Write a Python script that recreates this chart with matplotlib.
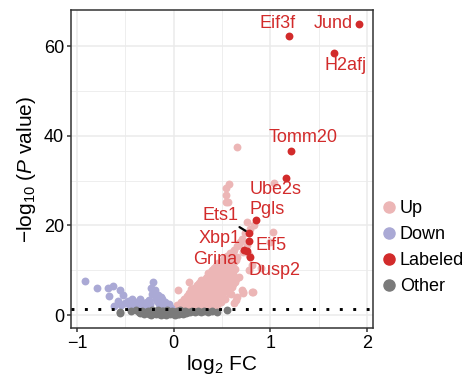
import matplotlib
matplotlib.use("Agg")
import matplotlib.pyplot as plt
from matplotlib.lines import Line2D

plt.rcParams["font.family"] = ["Liberation Sans", "DejaVu Sans"]
plt.rcParams["mathtext.fontset"] = "custom"
plt.rcParams["mathtext.rm"] = "Liberation Sans"
plt.rcParams["mathtext.it"] = "Liberation Sans:italic"

# --------------------------------------------------------
# 1. Data  (log2 FC, -log10 P)
# --------------------------------------------------------
up_fc = [0.02, 0.03, 0.05, 0.04, 0.07, 0.07, 0.08,
         0.10, 0.10, 0.11, 0.10, 0.12, 0.12,
         0.14, 0.14, 0.15, 0.14, 0.16, 0.16, 0.17, 0.16,
         0.18, 0.18, 0.19, 0.18, 0.20,
         0.21, 0.21, 0.22, 0.21, 0.22,
         0.23, 0.24, 0.23, 0.24,
         0.26, 0.26, 0.25, 0.27, 0.26, 0.27,
         0.28, 0.28, 0.29, 0.29, 0.30,
         0.31, 0.31, 0.32, 0.31, 0.32, 0.33, 0.30,
         0.33, 0.34, 0.33, 0.34, 0.34,
         0.35, 0.36, 0.36, 0.35, 0.37, 0.36, 0.37,
         0.38, 0.38, 0.39, 0.39, 0.38, 0.39, 0.40,
         0.40, 0.40, 0.41, 0.41, 0.41, 0.42,
         0.42, 0.43, 0.43, 0.43, 0.44, 0.42,
         0.45, 0.44, 0.45, 0.45, 0.46,
         0.46, 0.47, 0.47, 0.47, 0.46, 0.48,
         0.48, 0.49, 0.49, 0.48, 0.49, 0.50,
         0.50, 0.51, 0.51, 0.50, 0.51,
         0.52, 0.52, 0.53, 0.53, 0.52, 0.53,
         0.54, 0.55, 0.55, 0.54, 0.55,
         0.54, 0.54, 0.54, 0.57, 0.56,
         0.56, 0.56, 0.57, 0.57,
         0.58, 0.58, 0.58,
         0.59, 0.59, 0.60, 0.60,
         0.61, 0.61, 0.61,
         0.62, 0.62, 0.62,
         0.63, 0.63,
         0.64, 0.64, 0.64,
         0.65,
         0.66, 0.66, 0.66,
         0.68, 0.68,
         0.69, 0.71, 0.71, 0.72, 0.72,
         0.74, 0.76, 0.76, 0.78, 0.78,
         0.79, 0.83, 0.81, 0.81, 0.82,
         0.90, 1.00, 1.03, 1.04, 0.72]
up_p = [1.5, 2.2, 1.8, 5.6, 2.2, 1.6, 3.0,
        1.9, 2.8, 3.6, 1.5, 3.7, 2.4,
        2.0, 4.3, 3.1, 1.7, 7.4, 2.6, 3.8, 5.0,
        1.8, 3.3, 4.6, 5.9, 2.5,
        3.7, 2.2, 4.9, 6.1, 1.6,
        3.0, 5.4, 4.2, 6.7,
        7.1, 2.1, 3.6, 4.8, 5.9, 1.7,
        7.8, 2.8, 4.3, 6.4, 5.2,
        4.8, 1.9, 3.3, 6.0, 7.2, 8.2, 2.6,
        3.9, 5.5, 6.8, 8.6, 1.6,
        9.3, 8.6, 2.2, 4.5, 6.2, 7.5, 3.1,
        5.1, 7.0, 8.8, 9.7, 2.7, 3.8, 1.8,
        6.3, 10.0, 4.2, 8.1, 2.4, 5.5,
        10.4, 7.4, 9.1, 3.4, 6.0, 4.8,
        8.5, 11.0, 2.1, 5.3, 9.8,
        7.7, 10.5, 3.9, 6.8, 11.6, 4.7,
        11.2, 8.9, 5.8, 9.9, 2.9, 7.3,
        12.1, 6.4, 10.3, 4.4, 8.4,
        12.7, 9.4, 7.8, 11.3, 5.6, 3.5,
        11.9, 13.2, 10.0, 6.1, 8.8,
        25.3, 26.8, 28.3, 29.2, 25.3,
        9.6, 12.4, 4.9, 7.2,
        13.8, 10.6, 8.3,
        4.8, 13.0, 6.3, 11.4,
        14.0, 9.1, 7.0,
        14.6, 2.6, 11.8,
        7.4, 10.2,
        3.3, 8.0, 12.4,
        37.4,
        15.3, 4.1, 12.9,
        8.5, 15.8,
        16.4, 5.6, 17.0, 5.2, 14.1,
        18.2, 20.8, 15.6, 10.0, 13.4,
        19.3, 20.1, 11.2, 5.2, 5.1,
        10.6, 16.4, 18.6, 29.5, 5.0]

down_fc = [-0.92, -0.79, -0.68, -0.63, -0.67, -0.56, -0.62, -0.52, -0.50, -0.54,
           -0.43, -0.40, -0.35, -0.31, -0.26, -0.21, -0.23, -0.19, -0.16, -0.12,
           -0.09, -0.05, -0.45, -0.38, -0.30, -0.24, -0.15, -0.47, -0.36, -0.28,
           -0.18, -0.13, -0.10, -0.07, -0.03, -0.22, -0.17, -0.33, -0.41, -0.58,
           -0.30, -0.14, -0.45, -0.25, -0.08]
down_p = [7.7, 6.1, 6.0, 6.5, 4.2, 5.6, 2.1, 4.5, 2.6, 2.2,
          3.7, 3.0, 3.7, 2.6, 3.3, 7.3, 6.0, 5.6, 4.5, 3.7,
          3.0, 2.4, 2.4, 2.3, 2.5, 2.4, 2.5, 3.2, 2.8, 3.0,
          3.5, 4.1, 2.2, 1.9, 1.6, 4.8, 3.2, 2.0, 2.1, 3.1,
          1.7, 1.8, 1.6, 1.9, 1.5]

other_fc = [-0.56, -0.55, -0.39, -0.35, -0.33, -0.31, -0.29, -0.27, -0.26, -0.24,
            -0.23, -0.22, -0.20, -0.19, -0.18, -0.17, -0.16, -0.15, -0.14, -0.13,
            -0.12, -0.11, -0.10, -0.09, -0.08, -0.07, -0.06, -0.05, -0.04, -0.03,
            -0.02, -0.01, 0.00, 0.01, 0.02, 0.03, 0.04, 0.05, 0.06, 0.07,
            0.08, 0.09, 0.10, 0.11, 0.12, 0.13, 0.15, 0.17, 0.19, 0.22,
            0.25, 0.28, 0.31, 0.36, 0.40, 0.45, 0.55, -0.21, -0.28, -0.12,
            0.00, 0.06, -0.36, -0.44]
other_p = [0.7, 0.5, 1.1, 0.4, 0.9, 0.2, 0.6, 1.0, 0.3, 0.7,
           0.1, 1.1, 0.5, 0.9, 0.2, 0.6, 1.2, 0.3, 0.8, 0.1,
           0.5, 1.0, 0.3, 0.7, 0.1, 1.1, 0.4, 0.8, 0.2, 0.6,
           1.0, 0.3, 0.7, 0.1, 0.5, 0.9, 0.3, 0.7, 0.2, 1.1,
           0.5, 0.8, 0.3, 0.6, 1.0, 0.4, 0.8, 0.6, 1.0, 0.7,
           0.9, 0.7, 1.0, 0.6, 1.0, 0.8, 1.1, 0.4, 0.8, 0.9,
           0.2, 1.0, 0.8, 1.0]

labeled_genes = ["Jund", "Eif3f", "H2afj", "Tomm20", "Ube2s", "Pgls",
                 "Ets1", "Eif5", "Xbp1", "Grina", "Dusp2"]
labeled_fc = [1.92, 1.19, 1.66, 1.21, 1.16, 0.85, 0.78, 0.78, 0.73, 0.76, 0.79]
labeled_p = [65.0, 62.3, 58.4, 36.7, 30.5, 21.2, 18.3, 16.6, 14.6, 14.2, 13.0]

# label text positions (repelled positions)
text_pos = {"Jund": (1.65, 65.0), "Eif3f": (1.07, 65.0), "H2afj": (1.78, 55.6),
            "Tomm20": (1.34, 39.6), "Ube2s": (1.05, 27.9), "Pgls": (0.97, 23.6),
            "Ets1": (0.48, 22.3), "Eif5": (1.01, 15.6), "Xbp1": (0.48, 17.1),
            "Grina": (0.43, 12.3), "Dusp2": (1.04, 10.0)}

p_cut = 1.3  # -log10(0.05)

col_up = "#ECB6B6"
col_down = "#AAA9D5"
col_lab = "#D22B2B"
col_other = "#7A7A7A"

# --------------------------------------------------------
# 2. Plot
# --------------------------------------------------------
fig = plt.figure(figsize=(4.64, 3.75), dpi=100)
ax = fig.add_axes([0.153, 0.125, 0.651, 0.848])

pt = 32
ax.scatter(up_fc, up_p, s=pt, c=col_up, linewidths=0, zorder=3)
ax.scatter(down_fc, down_p, s=pt, c=col_down, linewidths=0, zorder=3)
ax.scatter(other_fc, other_p, s=pt, c=col_other, linewidths=0, zorder=4)
ax.scatter(labeled_fc, labeled_p, s=pt, c=col_lab, linewidths=0, zorder=5)

ax.axhline(p_cut, color="black", lw=2.1, linestyle=(0, (1, 3.6)), zorder=6)

for g, fx, py in zip(labeled_genes, labeled_fc, labeled_p):
    tx, ty = text_pos[g]
    if g == "Ets1":
        ax.annotate(g, xy=(fx, py), xytext=(tx, ty), ha="center", va="center",
                    fontsize=13, color=col_lab, zorder=7,
                    arrowprops=dict(arrowstyle="-", color="black", lw=1.6,
                                    shrinkA=1, shrinkB=3))
    else:
        ax.text(tx, ty, g, ha="center", va="center", fontsize=13,
                color=col_lab, zorder=7)

# --------------------------------------------------------
# 3. Customize
# --------------------------------------------------------
ax.set_xlim(-1.062, 2.062)
ax.set_ylim(-2.9, 68.0)
ax.set_xticks([-1, 0, 1, 2])
ax.set_yticks([0, 20, 40, 60])
ax.set_xticks([-0.5, 0.5, 1.5], minor=True)
ax.set_yticks([10, 30, 50], minor=True)
ax.grid(which="major", color="#EBEBEB", lw=1.1, zorder=0)
ax.grid(which="minor", color="#EBEBEB", lw=0.6, zorder=0)
ax.set_axisbelow(True)
ax.tick_params(which="major", length=3, width=1.1, color="#333333",
               labelsize=13, labelcolor="black", pad=2)
ax.tick_params(which="minor", length=0)
for sp in ax.spines.values():
    sp.set_color("#333333")
    sp.set_linewidth(1.1)

ax.set_xlabel("log$_2$ FC", fontsize=15, labelpad=1)
ax.set_ylabel("\u2212log$_{10}$ ($\\mathit{P}$ value)", fontsize=15, labelpad=4)

handles = [Line2D([], [], marker="o", ls="", color=c, markersize=8)
           for c in [col_up, col_down, col_lab, col_other]]
fig.legend(handles, ["Up", "Down", "Labeled", "Other"], loc="center left",
           bbox_to_anchor=(0.827, 0.339), frameon=False, fontsize=13,
           handlelength=0.6, handletextpad=0.3, labelspacing=0.5,
           borderpad=0, borderaxespad=0)

plt.savefig("out.png", dpi=100)
